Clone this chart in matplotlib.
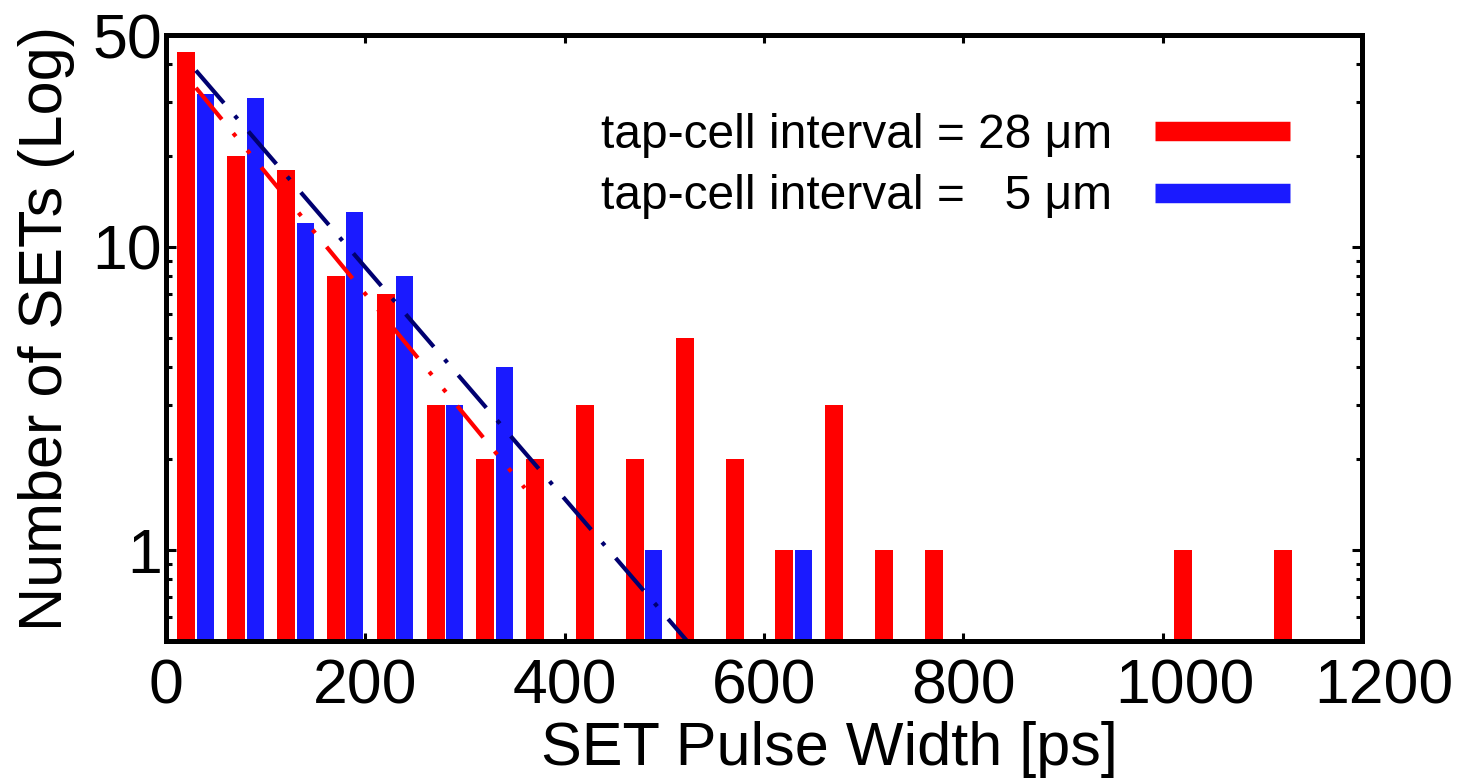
import numpy as np
import matplotlib.pyplot as plt
from matplotlib.lines import Line2D
from matplotlib.ticker import FixedLocator, LogLocator, NullFormatter
from matplotlib.transforms import ScaledTranslation

plt.rcParams['font.family'] = ['Liberation Sans', 'DejaVu Sans']

# histogram bins (ps) and counts
bins = np.arange(0, 1150, 50)
red_counts = [44, 20, 18, 8, 7, 3, 2, 2, 3, 2, 5, 2, 1, 3, 1, 1, 0, 0, 0, 0, 1, 0, 1]
blue_counts = [32, 31, 12, 13, 8, 3, 4, 0, 0, 1, 0, 0, 1, 0, 0, 0, 0, 0, 0, 0, 0, 0, 0]

# exponential fit lines (straight on log axis), end points
fit_red_x = [30, 360]
fit_red_y = [33.5, 1.6]
fit_blue_x = [30, 530]
fit_blue_y = [38.2, 0.47]

labels = ['tap-cell interval = 28 \u03bcm', 'tap-cell interval =   5 \u03bcm']
xticks = [0, 200, 400, 600, 800, 1000, 1200]
yticks = [1, 10, 50]

red = '#ff0000'
blue = '#1a1aff'
navy = '#000070'

fig = plt.figure(figsize=(14.64, 7.8), dpi=100)
ax = fig.add_axes([0.1134, 0.178, 0.8169, 0.777])
ax.set_yscale('log')

r = np.array(red_counts)
b = np.array(blue_counts)
ax.bar(bins[r > 0] + 20.5, r[r > 0], width=18, color=red, zorder=2)
ax.bar(bins[b > 0] + 39.5, b[b > 0], width=17, color=blue, zorder=2)

ax.plot(fit_red_x, fit_red_y, color=red, lw=3, dashes=(9.8, 4.3, 1, 4.3, 1, 4.3), zorder=3)
ax.plot(fit_blue_x, fit_blue_y, color=navy, lw=3, dashes=(10.3, 4, 1, 4), zorder=3)

ax.set_xlim(0, 1200)
ax.set_ylim(0.5, 50)
ax.xaxis.set_major_locator(FixedLocator(xticks))
ax.yaxis.set_major_locator(FixedLocator(yticks))
ax.set_yticklabels([str(t) for t in yticks])
ax.yaxis.set_minor_locator(LogLocator(base=10, subs=np.arange(2, 10)))
ax.yaxis.set_minor_formatter(NullFormatter())

ax.tick_params(which='both', direction='in', top=True, right=True, width=2.2, labelsize=45)
ax.tick_params(axis='x', which='major', length=6, pad=12)
ax.tick_params(axis='y', which='major', length=7, pad=3)
ax.tick_params(axis='y', which='minor', length=4)
for s in ax.spines.values():
    s.set_linewidth(3.6)
    s.set_zorder(4)

# the 4-digit labels sit a bit right of their ticks in the original
for lab in ax.get_xticklabels()[-2:]:
    lab.set_transform(lab.get_transform() + ScaledTranslation(0.22, 0, fig.dpi_scale_trans))

ax.set_xlabel('SET Pulse Width [ps]', fontsize=44, va='baseline')
ax.xaxis.set_label_coords(0.555, -0.204)
ax.set_ylabel('Number of SETs (Log)', fontsize=44, va='center', ha='center')
ax.yaxis.set_label_coords(-0.1003, 0.516)

handles = [Line2D([], [], color=red, lw=14, solid_capstyle='butt'),
           Line2D([], [], color=blue, lw=14, solid_capstyle='butt')]
ax.legend(handles, labels, loc='upper right', bbox_to_anchor=(0.94, 0.872), frameon=False,
          markerfirst=False, fontsize=34.5,
          handlelength=2.82, handletextpad=0.9, labelspacing=0.35, borderpad=0, borderaxespad=0)

fig.savefig('out.png', dpi=100)
